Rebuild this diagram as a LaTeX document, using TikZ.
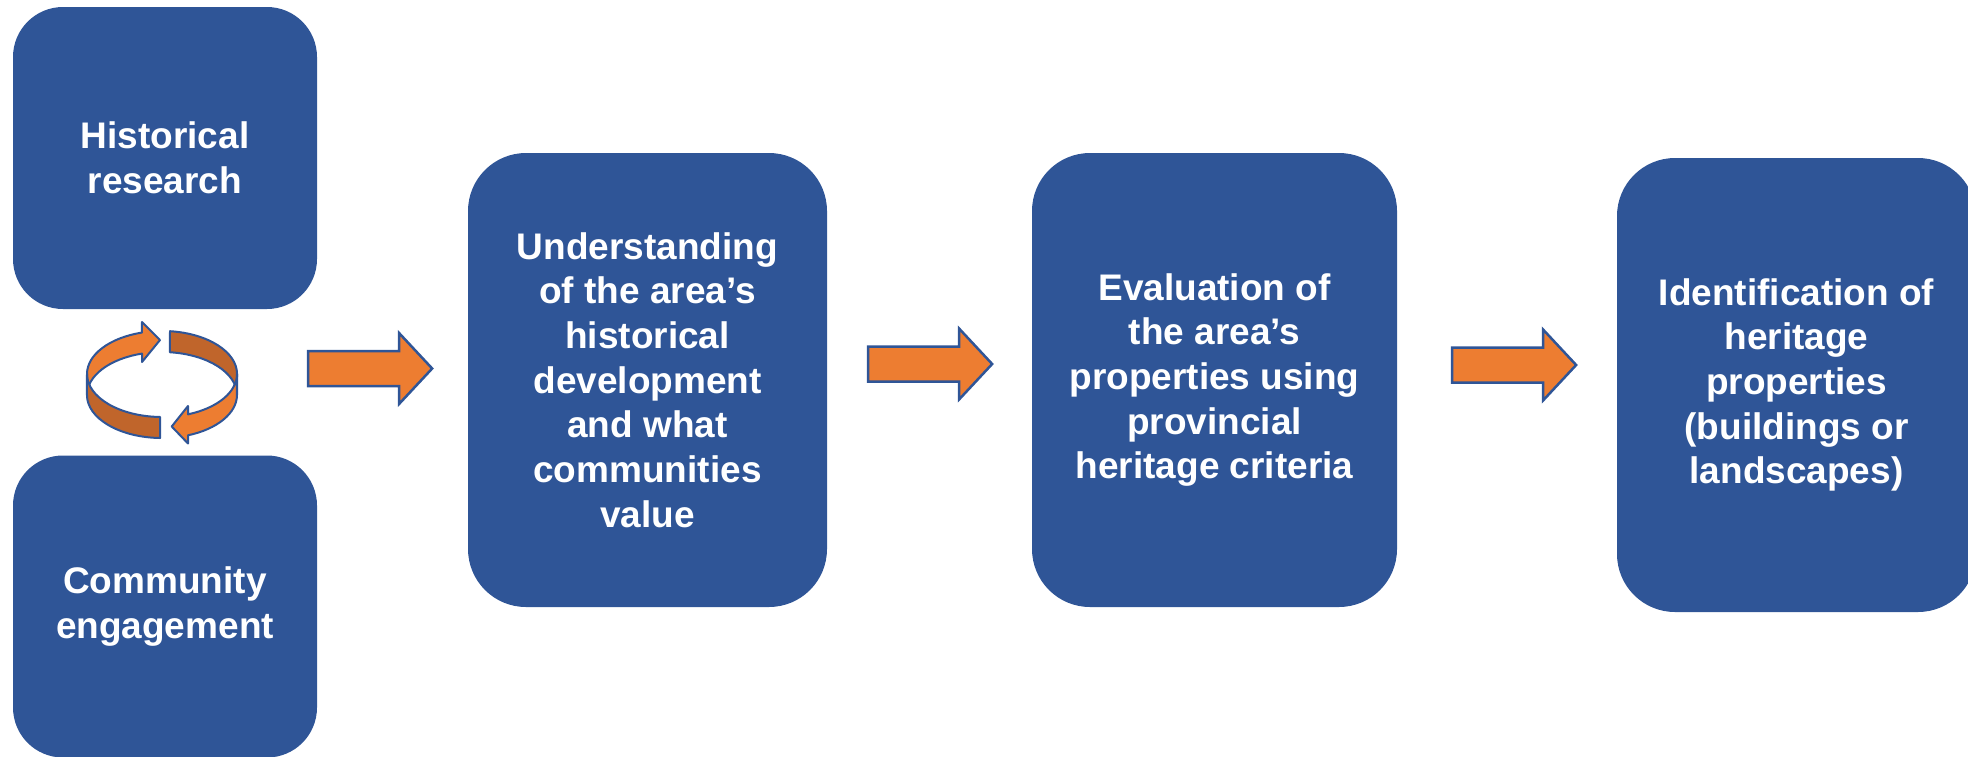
\documentclass[tikz,border=0pt]{standalone}
\usepackage{fontspec}
\setmainfont{Liberation Sans}
\usepackage{tikz}
\usetikzlibrary{positioning}
\usetikzlibrary{calc}
\usetikzlibrary{shapes,arrows}
\definecolor{boxblue}{RGB}{47,85,151}
\definecolor{arroworange}{RGB}{237,125,49}
\definecolor{ringdark}{RGB}{192,101,43}
\tikzset{
    stage/.style={
           rectangle,
           rounded corners=58pt,
           fill=boxblue,
           minimum width=359pt,
           minimum height=454pt,
           inner sep=0pt,
           text=white,
           align=center,
           font=\bfseries\fontsize{37}{44.7}\selectfont
           },
    smallstage/.style={
           stage,
           rounded corners=50pt,
           minimum width=304pt,
           minimum height=302pt
           },
    flowarrow/.style={
           single arrow,
           draw=boxblue, line width=2.5pt,
           fill=arroworange,
           minimum height=124pt,
           minimum width=68pt,
           single arrow head extend=18pt,
           single arrow tip angle=94,
           inner xsep=0pt, inner ysep=16.25pt
           },
    ringpart/.style={
           draw=boxblue, line width=2pt, line join=round
           },
}
\begin{document}
\begin{tikzpicture}[x=1pt, y=-1pt, node distance=448.5pt, on grid]
  \useasboundingbox (0,0) rectangle (1968,756);
     \node[smallstage] (hist) at (165,158)     {Historical\\research};
     \node[smallstage] (comm) [below=of hist]  {Community\\engagement};
     \node[stage]      (und)  at (647.5,380)
           {Understanding\\of the area’s\\historical\\development\\and what\\communities\\value};
     \node[stage, minimum width=365pt] (eval) [right=567pt of und]
           {Evaluation of\\the area’s\\properties using\\provincial\\heritage criteria};
     \node[stage]      (ident) [below right=5pt and 582pt of eval]
           {Identification of\\heritage\\properties\\(buildings or\\landscapes)};
     \node[flowarrow] (arrA) at (362,368.5) {};
     \node[flowarrow] (arrB) at (922,364)   {};
     \node[flowarrow] (arrC) at (1506,365)  {};
  % the ring between the two left boxes
  \coordinate (cyc) at (162,383);
  \begin{scope}[shift={(cyc)}, x=1pt, y=1pt]
    \path[ringpart, fill=arroworange] (-75,9)
      arc[start angle=180, end angle=105.5, x radius=75, y radius=43]
      -- (-20,61) -- (-2,43) -- (-20,21) -- (-20,29.4)
      arc[start angle=105.5, end angle=180, x radius=75, y radius=43] -- cycle;
    \path[ringpart, fill=ringdark] (8,51.8)
      arc[start angle=83.9, end angle=0, x radius=75, y radius=43]
      -- (75,-12)
      arc[start angle=0, end angle=83.9, x radius=75, y radius=43] -- cycle;
    \path[ringpart, fill=ringdark] (-75,9)
      arc[start angle=180, end angle=268.5, x radius=75, y radius=43]
      -- (-2,-55)
      arc[start angle=268.5, end angle=180, x radius=75, y radius=43] -- cycle;
    \path[ringpart, fill=arroworange] (75,9)
      arc[start angle=360, end angle=290.3, x radius=75, y radius=43]
      -- (26,-23) -- (9.7,-43.5) -- (26,-60.5) -- (26,-52.3)
      arc[start angle=290.3, end angle=360, x radius=75, y radius=43] -- cycle;
  \end{scope}
\end{tikzpicture}
\end{document}
